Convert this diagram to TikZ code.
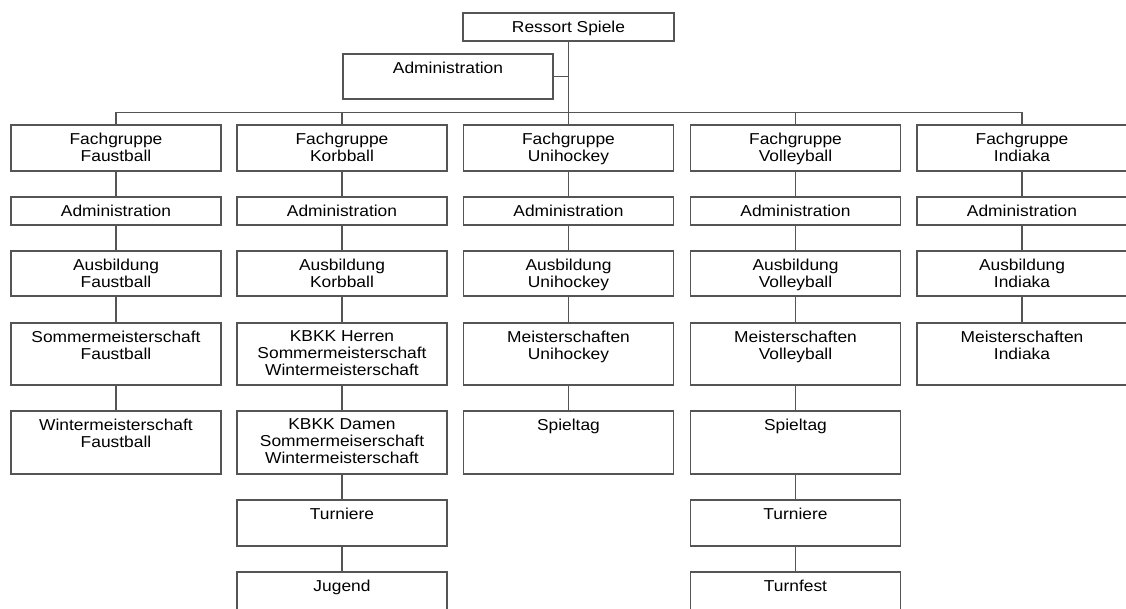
\documentclass[tikz,border=0pt]{standalone}
\usepackage{fontspec}
\setmainfont{Liberation Sans}[FakeStretch=1.1]
\definecolor{linec}{RGB}{85,85,85}
\tikzset{
  box/.style={draw=linec, line width=1.4pt, minimum width=210pt, inner sep=0pt},
  lbl/.style={anchor=north, inner sep=0pt, yshift=-8.5pt, align=center,
              font=\fontsize{15.8}{17}\selectfont, text=black},
  conn/.style={draw=linec, line width=1.4pt}
}
\newcommand\bx[5]{\node[box, minimum height=#4pt, label={[lbl]north:#5}] (#1) at (#2,#3) {};}
\begin{document}
\begin{tikzpicture}[x=1pt,y=-1pt]
\useasboundingbox (0,0) rectangle (1126,608);
% top
\node[box, minimum width=211pt, minimum height=28pt, label={[lbl]north:Ressort Spiele}] (top) at (568.5,27) {};
\bx{adm}{448}{76.5}{45}{Administration}
% column 1
\bx{f1}{116}{148}{46}{Fachgruppe\\Faustball}
\bx{a1}{116}{211}{28}{Administration}
\bx{b1}{116}{273.5}{45}{Ausbildung\\Faustball}
\bx{c1}{116}{354}{62}{Sommermeisterschaft\\Faustball}
\bx{d1}{116}{442.5}{63}{Wintermeisterschaft\\Faustball}
% column 2
\bx{f2}{342}{148}{46}{Fachgruppe\\Korbball}
\bx{a2}{342}{211}{28}{Administration}
\bx{b2}{342}{273.5}{45}{Ausbildung\\Korbball}
\bx{c2}{342}{354}{62}{KBKK Herren\\Sommermeisterschaft\\Wintermeisterschaft}
\bx{d2}{342}{442.5}{63}{KBKK Damen\\Sommermeiserschaft\\Wintermeisterschaft}
\bx{e2}{342}{523}{46}{Turniere}
\bx{g2}{342}{595}{46}{Jugend}
% column 3
\bx{f3}{568.5}{148}{46}{Fachgruppe\\Unihockey}
\bx{a3}{568.5}{211}{28}{Administration}
\bx{b3}{568.5}{273.5}{45}{Ausbildung\\Unihockey}
\bx{c3}{568.5}{354}{62}{Meisterschaften\\Unihockey}
\bx{d3}{568.5}{442.5}{63}{Spieltag}
% column 4
\bx{f4}{795.5}{148}{46}{Fachgruppe\\Volleyball}
\bx{a4}{795.5}{211}{28}{Administration}
\bx{b4}{795.5}{273.5}{45}{Ausbildung\\Volleyball}
\bx{c4}{795.5}{354}{62}{Meisterschaften\\Volleyball}
\bx{d4}{795.5}{442.5}{63}{Spieltag}
\bx{e4}{795.5}{523}{46}{Turniere}
\bx{g4}{795.5}{595}{46}{Turnfest}
% column 5
\bx{f5}{1022}{148}{46}{Fachgruppe\\Indiaka}
\bx{a5}{1022}{211}{28}{Administration}
\bx{b5}{1022}{273.5}{45}{Ausbildung\\Indiaka}
\bx{c5}{1022}{354}{62}{Meisterschaften\\Indiaka}
% connectors
\draw[conn] (top.south) -- (f3.north);
\draw[conn] (adm.east) -- (adm.east -| top.south);
\draw[conn] (f1.north) -- ++(0,-12) -| (f5.north);
\draw[conn] (f2.north) -- ++(0,-12);
\draw[conn] (f4.north) -- ++(0,-12);
\foreach \c in {1,...,5}{
  \draw[conn] (f\c.south) -- (a\c.north);
  \draw[conn] (a\c.south) -- (b\c.north);
  \draw[conn] (b\c.south) -- (c\c.north);
}
\foreach \c in {1,2,3,4}{
  \draw[conn] (c\c.south) -- (d\c.north);
}
\foreach \c in {2,4}{
  \draw[conn] (d\c.south) -- (e\c.north);
  \draw[conn] (e\c.south) -- (g\c.north);
}
\end{tikzpicture}
\end{document}
